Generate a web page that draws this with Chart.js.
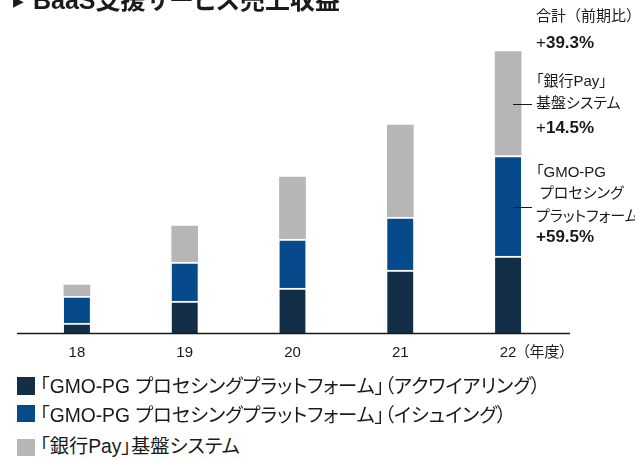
<!DOCTYPE html>
<html><head><meta charset="utf-8">
<script src="https://cdn.jsdelivr.net/npm/chart.js@4"></script>
<style>
html,body{margin:0;padding:0;background:#fff;}
body{width:635px;height:460px;position:relative;overflow:hidden;font-family:"Liberation Sans",Arial,"Noto Sans CJK JP",sans-serif;color:#1a1a1a;font-feature-settings:"palt";}
#c{position:absolute;left:0;top:0;}
.t{position:absolute;white-space:nowrap;line-height:20px;font-size:15px;}
.p{font-size:17px;font-weight:bold;}
.p .n{font-weight:normal;}
.ln{position:absolute;height:1px;background:#1a1a1a;width:19px;left:513px;}
.sq{position:absolute;left:17px;width:18px;height:18px;}
.lg{position:absolute;left:40px;white-space:nowrap;font-size:19.3px;line-height:24px;}
</style></head>
<body>
<canvas id="c" width="635" height="380"></canvas>
<div class="t" style="left:13px;top:-6px;font-size:14px;line-height:14px;font-family:'DejaVu Sans',sans-serif;">▶</div>
<div class="t" style="left:33px;top:-12px;font-size:25px;font-weight:bold;line-height:24px;">BaaS支援サービス売上収益</div>

<div class="t" style="left:536px;top:6px;font-size:15px;font-feature-settings:normal;">合計（前期比）</div>
<div class="t p" style="left:536px;top:33px;"><span class="n">+</span>39.3%</div>
<div class="t" style="left:536px;top:71px;">「銀行Pay」</div>
<div class="t" style="left:536px;top:93px;">基盤システム</div>
<div class="t p" style="left:536px;top:118px;"><span class="n">+</span>14.5%</div>
<div class="t" style="left:536px;top:162px;">「GMO-PG</div>
<div class="t" style="left:540px;top:183px;">プロセシング</div>
<div class="t" style="left:536px;top:206px;">プラットフォーム」</div>
<div class="t p" style="left:536px;top:227px;">+59.5%</div>
<div class="ln" style="top:104px;"></div>
<div class="ln" style="top:207px;"></div>

<div class="t" style="left:522px;top:342px;">（年度）</div>

<div class="sq" style="top:377px;background:#132e47;"></div>
<div class="lg" style="top:375px;">「GMO-PG プロセシングプラットフォーム」（アクワイアリング）</div>
<div class="sq" style="top:405px;height:17px;background:#064a8b;"></div>
<div class="lg" style="top:404px;">「GMO-PG プロセシングプラットフォーム」（イシュイング）</div>
<div class="sq" style="top:439px;height:17px;background:#b5b6b5;"></div>
<div class="lg" style="top:435px;">「銀行Pay」基盤システム</div>

<script>
const categories = ['18', '19', '20', '21', '22'];
const acquiring = [10, 32, 45, 63, 77];
const issuing = [27, 39, 49, 53, 100.5];
const ginkoPay = [11, 36, 62, 92, 104];
const seriesNames = [
  '「GMO-PG プロセシングプラットフォーム」（アクワイアリング）',
  '「GMO-PG プロセシングプラットフォーム」（イシュイング）',
  '「銀行Pay」基盤システム'
];
const seriesColors = ['#132e47', '#064a8b', '#b5b6b5'];

const baseline = {
  id: 'baseline',
  afterDatasetsDraw(chart) {
    const {ctx, chartArea, scales: {y}} = chart;
    const py = Math.round(y.getPixelForValue(0)) + 0.5;
    ctx.save();
    ctx.strokeStyle = '#1a1a1a';
    ctx.lineWidth = 1.3;
    ctx.beginPath();
    ctx.moveTo(chartArea.left - 6, py);
    ctx.lineTo(chartArea.right + 8, py);
    ctx.stroke();
    ctx.restore();
  }
};

const seg = {top: 2, right: 0, bottom: 0, left: 0};
new Chart(document.getElementById('c'), {
  type: 'bar',
  data: {
    labels: categories,
    datasets: [
      {label: seriesNames[0], data: acquiring, backgroundColor: seriesColors[0], borderColor: '#fff', borderWidth: seg},
      {label: seriesNames[1], data: issuing, backgroundColor: seriesColors[1], borderColor: '#fff', borderWidth: seg},
      {label: seriesNames[2], data: ginkoPay, backgroundColor: seriesColors[2], borderWidth: 0}
    ]
  },
  options: {
    responsive: false,
    animation: false,
    devicePixelRatio: 1,
    layout: {padding: {left: 23, right: 73, top: 33, bottom: 7}},
    datasets: {bar: {barThickness: 26}},
    plugins: {legend: {display: false}, tooltip: {enabled: false}},
    scales: {
      x: {
        stacked: true,
        grid: {display: false, drawTicks: false},
        border: {display: false},
        ticks: {color: '#1a1a1a', font: {family: '"Liberation Sans", Arial, sans-serif', size: 15}, padding: 11},
        afterFit(s) { s.height = 40; }
      },
      y: {stacked: true, display: false, min: 0, max: 300}
    }
  },
  plugins: [baseline]
});
</script>
</body></html>
